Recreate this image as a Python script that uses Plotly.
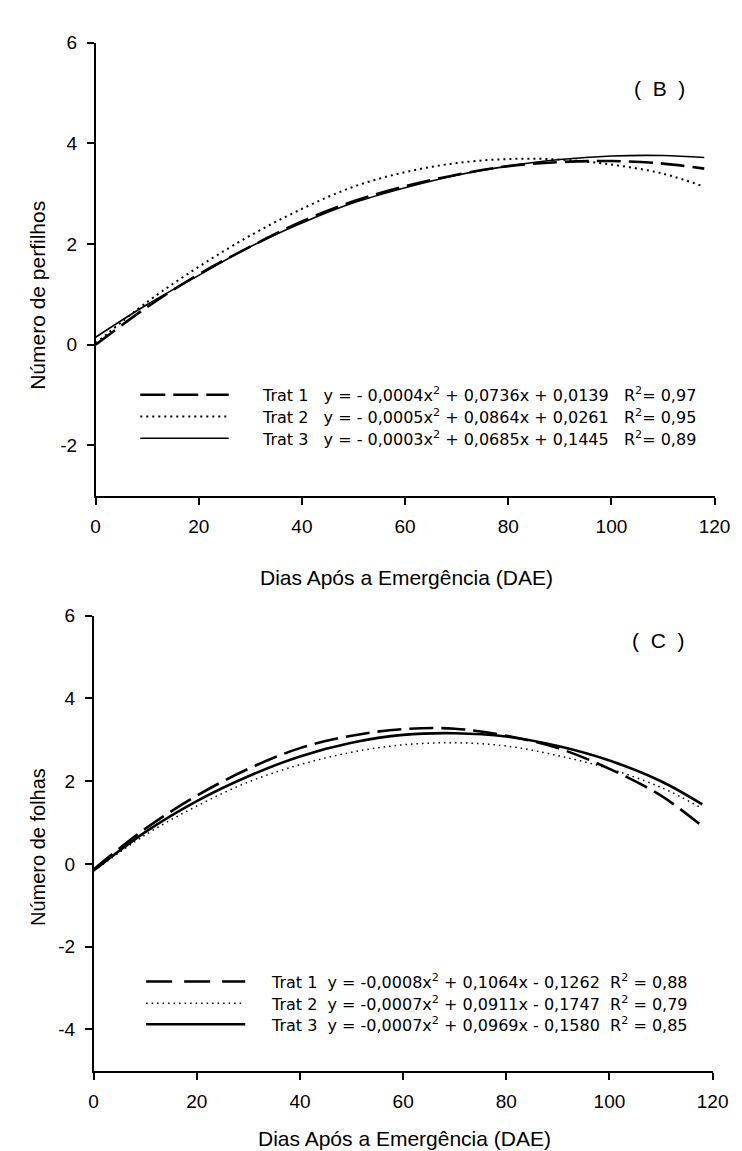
import plotly.graph_objects as go

W, H = 742, 1151

# ---- data ----
dae = [0, 10, 20, 30, 40, 50, 60, 70, 80, 90, 100, 110, 118]

perf_t1 = [0.00, 0.75, 1.40, 1.95, 2.45, 2.85, 3.15, 3.38, 3.55, 3.63, 3.65, 3.60, 3.50]
perf_t2 = [0.03, 0.85, 1.55, 2.17, 2.70, 3.14, 3.43, 3.61, 3.69, 3.68, 3.58, 3.40, 3.14]
perf_t3 = [0.15, 0.80, 1.38, 1.95, 2.42, 2.82, 3.12, 3.37, 3.55, 3.68, 3.75, 3.76, 3.72]

fol_t1 = [-0.13, 0.85, 1.65, 2.30, 2.80, 3.10, 3.26, 3.27, 3.10, 2.80, 2.30, 1.65, 0.91]
fol_t2 = [-0.17, 0.70, 1.40, 1.98, 2.40, 2.70, 2.88, 2.93, 2.85, 2.62, 2.30, 1.85, 1.34]
fol_t3 = [-0.16, 0.77, 1.52, 2.12, 2.60, 2.93, 3.12, 3.16, 3.08, 2.85, 2.50, 2.00, 1.44]

x_ticks = [0, 20, 40, 60, 80, 100, 120]
y_ticks_top = [-2, 0, 2, 4, 6]
y_ticks_bot = [-4, -2, 0, 2, 4, 6]

series_names = ["Trat 1", "Trat 2", "Trat 3"]
eq_top = [
    "y = - 0,0004x<sup>2</sup> + 0,0736x + 0,0139\u00a0\u00a0\u00a0R<sup>2</sup>= 0,97",
    "y = - 0,0005x<sup>2</sup> + 0,0864x + 0,0261\u00a0\u00a0\u00a0R<sup>2</sup>= 0,95",
    "y = - 0,0003x<sup>2</sup> + 0,0685x + 0,1445\u00a0\u00a0\u00a0R<sup>2</sup>= 0,89",
]
eq_bot = [
    "y = -0,0008x<sup>2</sup> + 0,1064x - 0,1262\u00a0\u00a0R<sup>2</sup> = 0,88",
    "y = -0,0007x<sup>2</sup> + 0,0911x - 0,1747\u00a0\u00a0R<sup>2</sup> = 0,79",
    "y = -0,0007x<sup>2</sup> + 0,0969x - 0,1580\u00a0\u00a0R<sup>2</sup> = 0,85",
]

# ---- styles ----
FONT = "Liberation Sans, Arial, sans-serif"
LFONT = "DejaVu Sans, Liberation Sans, sans-serif"
styles_top = [dict(dash="24px,8px", width=2.6), dict(dash="2px,4px", width=2.0), dict(dash="solid", width=1.6)]
styles_bot = [dict(dash="24px,8px", width=2.6), dict(dash="1.5px,4px", width=1.5), dict(dash="solid", width=2.6)]
key_dash_top = ["25px,8px", "2px,4px", "solid"]
key_dash_bot = ["26px,12px", "1.5px,4px", "solid"]

def px_x(p):
    return p / W

def px_y(p):
    return 1 - p / H

# plot areas in pixels
TOP_XL, TOP_XR = 85, 722
BOT_XL, BOT_XR = 83, 720
TOP_T, TOP_B = 25, 482
BOT_T, BOT_B = 603, 1062

fig = go.Figure()

for vals, st, nm in zip([perf_t1, perf_t2, perf_t3], styles_top, series_names):
    fig.add_trace(go.Scatter(x=dae, y=vals, mode="lines", name=nm, showlegend=False,
                             line=dict(color="black", shape="spline", **st),
                             xaxis="x", yaxis="y"))
for vals, st, nm in zip([fol_t1, fol_t2, fol_t3], styles_bot, series_names):
    fig.add_trace(go.Scatter(x=dae, y=vals, mode="lines", name=nm, showlegend=False,
                             line=dict(color="black", shape="spline", **st),
                             xaxis="x2", yaxis="y2"))

axis_common = dict(showline=True, linecolor="black", linewidth=1.5, ticks="outside",
                   ticklen=7, tickwidth=1.5, tickcolor="black", showgrid=False, zeroline=False,
                   tickfont=dict(family=FONT, size=19, color="black"), mirror=False,
                   ticklabelstandoff=6)

def labels(vals):
    return [str(v) for v in vals]

fig.update_layout(
    width=W, height=H, margin=dict(l=0, r=0, t=0, b=0),
    paper_bgcolor="white", plot_bgcolor="white", showlegend=False,
    xaxis=dict(domain=[px_x(TOP_XL), px_x(TOP_XR)], range=[0, 120], tickvals=x_ticks,
               ticktext=labels(x_ticks), anchor="y", **axis_common),
    yaxis=dict(domain=[px_y(TOP_B), px_y(TOP_T)], range=[-3, 6], tickvals=y_ticks_top,
               ticktext=labels(y_ticks_top), anchor="x", **axis_common),
    xaxis2=dict(domain=[px_x(BOT_XL), px_x(BOT_XR)], range=[0, 120], tickvals=x_ticks,
                ticktext=labels(x_ticks), anchor="y2", **axis_common),
    yaxis2=dict(domain=[px_y(BOT_B), px_y(BOT_T)], range=[-5, 6], tickvals=y_ticks_bot,
                ticktext=labels(y_ticks_bot), anchor="x2", **axis_common),
)

ann = []
shapes = []
tf = dict(family=FONT, size=20, color="black")
tf21 = dict(family=FONT, size=21, color="black")
# axis titles
ann.append(dict(text="Dias Após a Emergência (DAE)", x=px_x(405), y=px_y(564), xref="paper", yref="paper",
                showarrow=False, font=tf21, xanchor="center", yanchor="middle"))
ann.append(dict(text="Dias Após a Emergência (DAE)", x=px_x(403), y=px_y(1130), xref="paper", yref="paper",
                showarrow=False, font=tf21, xanchor="center", yanchor="middle"))
ann.append(dict(text="Número de perfilhos", x=px_x(25), y=px_y(280), xref="paper", yref="paper",
                showarrow=False, font=tf21, textangle=-90, xanchor="center", yanchor="middle"))
ann.append(dict(text="Número de folhas", x=px_x(25), y=px_y(836), xref="paper", yref="paper",
                showarrow=False, font=tf, textangle=-90, xanchor="center", yanchor="middle"))
# panel labels
ann.append(dict(text="(\u00a0\u00a0B\u00a0\u00a0)", x=px_x(694), y=px_y(57), xref="paper", yref="paper",
                showarrow=False, font=tf21))
ann.append(dict(text="(\u00a0\u00a0C\u00a0\u00a0)", x=px_x(694), y=px_y(628), xref="paper", yref="paper",
                showarrow=False, font=tf21))

lf = dict(family=LFONT, size=16, color="black")
rows_top = [380, 402, 424]
rows_bot = [972, 994, 1015]
for i in range(3):
    st = styles_top[i]
    shapes.append(dict(type="line", xref="paper", yref="paper", x0=px_x(131), x1=px_x(222),
                       y0=px_y(rows_top[i]), y1=px_y(rows_top[i]),
                       line=dict(color="black", width=st["width"], dash=key_dash_top[i])))
    ann.append(dict(text=series_names[i] + "\u00a0\u00a0\u00a0" + eq_top[i], x=px_x(254), y=px_y(rows_top[i]),
                    xref="paper", yref="paper", showarrow=False, font=lf, xanchor="left", yanchor="middle"))
    st = styles_bot[i]
    shapes.append(dict(type="line", xref="paper", yref="paper", x0=px_x(137), x1=px_x(239),
                       y0=px_y(rows_bot[i]), y1=px_y(rows_bot[i]),
                       line=dict(color="black", width=st["width"], dash=key_dash_bot[i])))
    ann.append(dict(text=series_names[i] + "\u00a0\u00a0" + eq_bot[i], x=px_x(263), y=px_y(rows_bot[i]),
                    xref="paper", yref="paper", showarrow=False, font=lf, xanchor="left", yanchor="middle"))

fig.update_layout(annotations=ann, shapes=shapes)
fig.write_html("out.html")
